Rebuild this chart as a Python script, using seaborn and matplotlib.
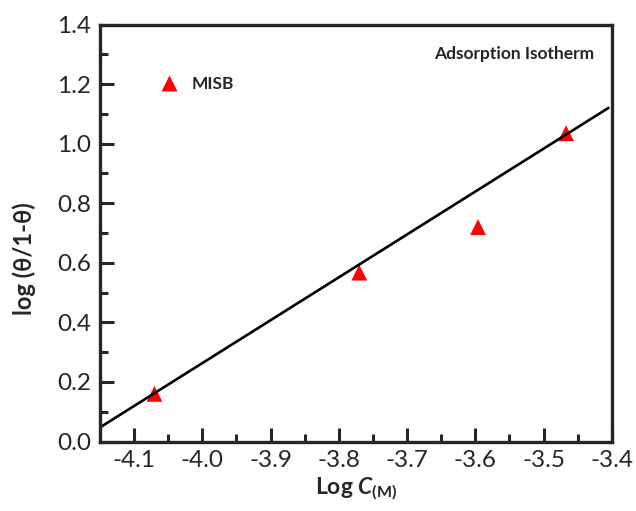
import numpy as np
import pandas as pd
import seaborn as sns
import matplotlib
matplotlib.use('Agg')
import matplotlib.pyplot as plt
from matplotlib.ticker import MultipleLocator, FormatStrFormatter

# data
log_c = [-4.07, -3.77, -3.596, -3.467]
log_theta = [0.16, 0.567, 0.72, 1.035]
fit_x = [-4.15, -3.405]
fit_y = [0.047, 1.12]

db = pd.DataFrame({'log_c': log_c, 'log_theta': log_theta, 'series': 'MISB'})
fit = pd.DataFrame({'x': fit_x, 'y': fit_y})

sns.set_style('ticks')
plt.rcParams['font.family'] = ['Lato', 'DejaVu Sans']
plt.rcParams['mathtext.fontset'] = 'custom'
plt.rcParams['mathtext.it'] = 'Lato:italic:bold'
plt.rcParams['mathtext.rm'] = 'Lato:bold'

fig = plt.figure(figsize=(6.36, 5.11), dpi=100)
ax = fig.add_axes([0.157, 0.136, 0.805, 0.816])

sns.lineplot(data=fit, x='x', y='y', color='black', linewidth=1.9, ax=ax, legend=False)
sns.scatterplot(data=db, x='log_c', y='log_theta', hue='series', palette=['red'],
                marker='^', s=130, edgecolor='none', ax=ax)

ax.set_xlim(-4.15, -3.4)
ax.set_ylim(0, 1.4)
ax.xaxis.set_major_locator(MultipleLocator(0.1))
ax.xaxis.set_minor_locator(MultipleLocator(0.05))
ax.yaxis.set_major_locator(MultipleLocator(0.2))
ax.yaxis.set_minor_locator(MultipleLocator(0.1))
ax.xaxis.set_major_formatter(FormatStrFormatter('%.1f'))
ax.yaxis.set_major_formatter(FormatStrFormatter('%.1f'))

for s in ax.spines.values():
    s.set_linewidth(2.4)
    s.set_visible(True)
ax.tick_params(which='major', direction='in', length=10, width=2.2, labelsize=17.5, pad=6)
ax.tick_params(which='minor', direction='in', length=5.5, width=2.2)

ax.set_xlabel(r'Log $\mathit{C}_{\mathrm{(M)}}$', fontsize=16.5, fontweight='bold', labelpad=3)
ax.set_ylabel('log (θ/1-θ)', fontsize=17, fontweight='bold')
ax.yaxis.set_label_coords(-0.125, 0.438)

leg = ax.legend(loc='upper left', bbox_to_anchor=(0.07, 0.915), frameon=False,
                prop={'weight': 'bold', 'size': 12.5}, handletextpad=0.3)
ax.text(0.965, 0.93, 'Adsorption Isotherm', transform=ax.transAxes, ha='right', va='center',
        fontsize=12.5, fontweight='bold')

fig.savefig('out.png', dpi=100)
